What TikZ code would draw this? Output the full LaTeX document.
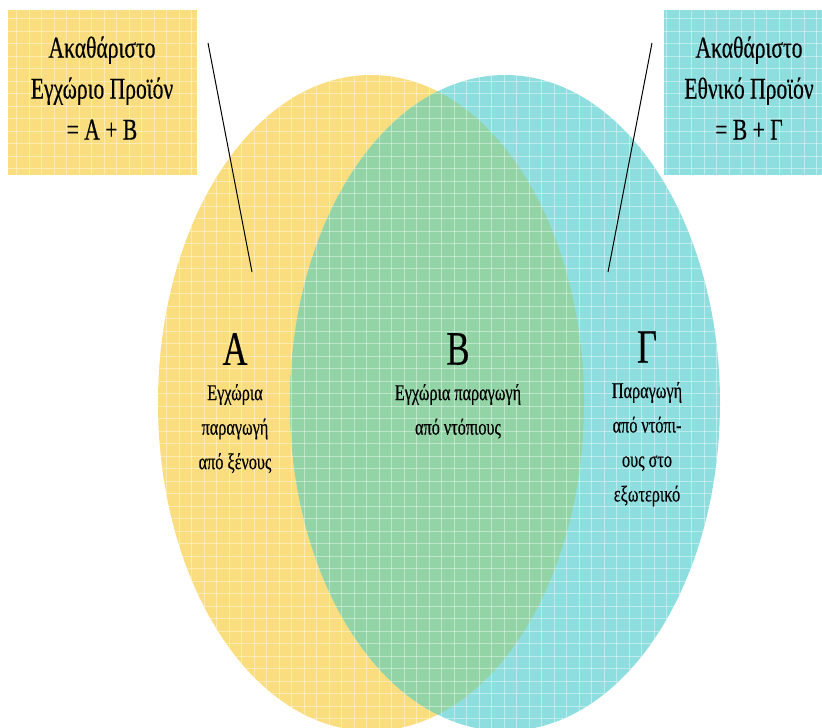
\documentclass[tikz,border=0pt]{standalone}
\usepackage{fontspec}
\setmainfont{Liberation Serif}
\newfontfamily\narrowgr[FakeStretch=0.72,FakeBold=0.4]{Liberation Serif}
\usetikzlibrary{positioning}

\definecolor{gdpyellow}{RGB}{250,221,126}
\definecolor{gnpcyan}{RGB}{143,222,223}
\definecolor{bothgreen}{RGB}{146,212,166}

\tikzset{
  boxtext/.style={align=center, inner sep=0, font=\narrowgr\fontsize{30}{41}\selectfont},
  regionletter/.style={inner sep=0, font=\narrowgr\fontsize{48}{48}\selectfont},
  regiontext/.style={align=center, inner sep=0, font=\narrowgr\fontsize{22.5}{34.5}\selectfont},
  gridline/.style={white, opacity=.4, line width=.6pt},
  pointer/.style={black, line width=1pt},
}

\begin{document}
\begin{tikzpicture}[x=1pt,y=-1pt]
\useasboundingbox (0,0) rectangle (822,728);

% boxes and circles
\fill[gdpyellow] (8,10) rectangle (197,175);
\fill[gnpcyan] (664,10) rectangle (822,175);
\fill[gdpyellow] (371,403) ellipse [x radius=213, y radius=328];
\fill[gnpcyan] (505,403) ellipse [x radius=215, y radius=328];
\begin{scope}
  \clip (371,403) ellipse [x radius=213, y radius=328];
  \fill[bothgreen] (505,403) ellipse [x radius=215, y radius=328];
\end{scope}

% grid on the filled parts
\begin{scope}
  \clip (371,403) ellipse [x radius=213, y radius=328]
        (505,403) ellipse [x radius=215, y radius=328]
        (8,10) rectangle (197,175)
        (664,10) rectangle (822,175);
  \foreach \gx in {4,16.5,...,822} \draw[gridline] (\gx,0) -- (\gx,728);
  \foreach \gy in {6,18.5,...,728} \draw[gridline] (0,\gy) -- (822,\gy);
\end{scope}

% box labels
\path
(102,88)  node[boxtext] (gdp) {Ακαθάριστο\\Εγχώριο Προϊόν\\= Α + Β}
(749,88)  node[boxtext] (gnp) {Ακαθάριστο\\Εθνικό Προϊόν\\= Β + Γ};

% regions
\path
(235,349) node[regionletter] (regA) {Α}
(458,349) node[regionletter] (regB) {Β}
(647,347) node[regionletter] (regG) {Γ};
\node[regiontext, below=19pt of regA] (textA) {Εγχώρια\\παραγωγή\\από ξένους};
\node[regiontext, below=19pt of regB] (textB) {Εγχώρια παραγωγή\\από ντόπιους};
\node[regiontext, below=19pt of regG] (textG) {Παραγωγή\\από ντόπι-\\ους στο\\εξωτερικό};

% pointers
\coordinate (gdptip) at (208,43);
\coordinate (gdpend) at (252,272);
\coordinate (gnptip) at (652,43);
\coordinate (gnpend) at (608,272);
\draw[pointer] (gdptip)--(gdpend);
\draw[pointer] (gnptip)--(gnpend);

\end{tikzpicture}
\end{document}
